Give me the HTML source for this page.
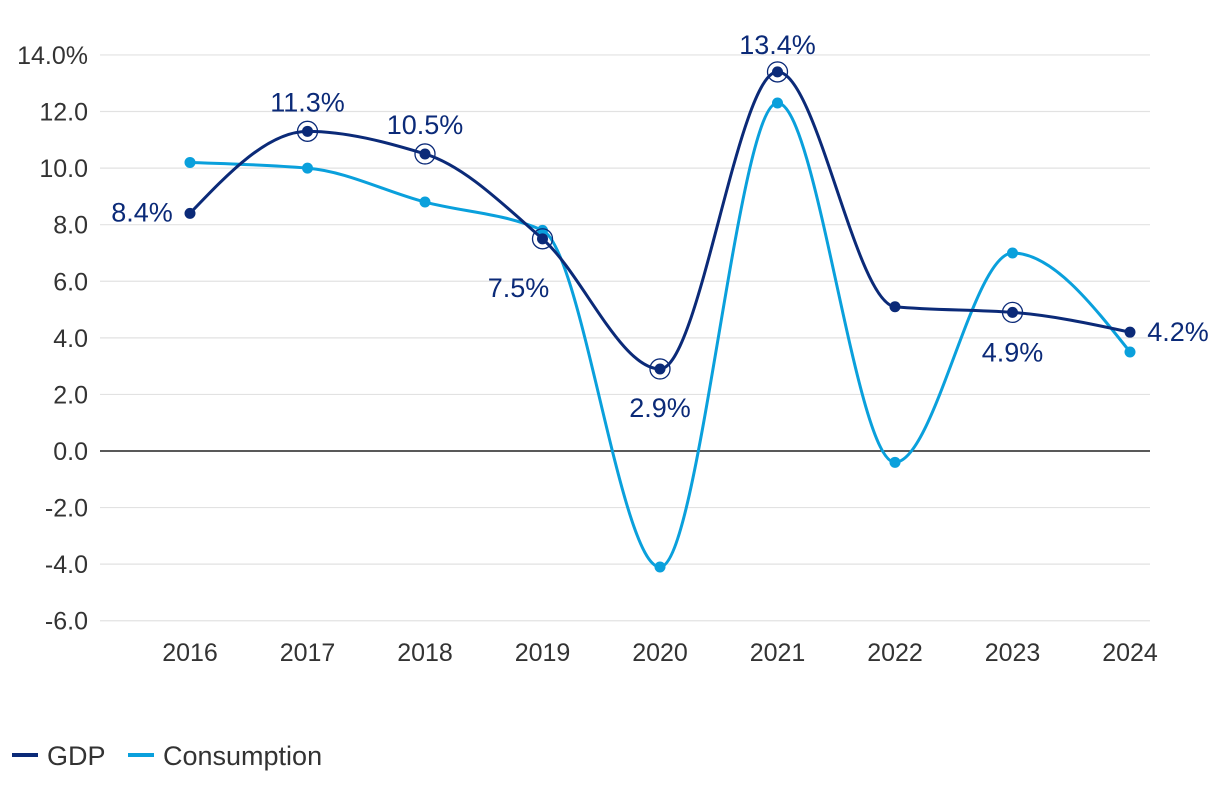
<!DOCTYPE html>
<html><head><meta charset="utf-8"><style>
html,body{margin:0;padding:0;background:#fff;}
svg text{font-family:"Liberation Sans",sans-serif;}
</style></head><body>
<svg id="chart" width="1220" height="788" viewBox="0 0 1220 788" xmlns="http://www.w3.org/2000/svg">
<g id="grid"></g>
<g id="yticks"></g>
<g id="xticks"></g>
<g id="series"></g>
<g id="legend">
  <line x1="12" y1="755" x2="38" y2="755" stroke="#0b2a78" stroke-width="4"/>
  <text x="47" y="765" font-size="27" fill="#333">GDP</text>
  <line x1="128" y1="755" x2="154" y2="755" stroke="#0aa0dc" stroke-width="4"/>
  <text x="163" y="765" font-size="27" fill="#333">Consumption</text>
</g>
</svg>
<script>
const years=["2016","2017","2018","2019","2020","2021","2022","2023","2024"];
const gdp=[8.4,11.3,10.5,7.5,2.9,13.4,5.1,4.9,4.2];
const consumption=[10.2,10.0,8.8,7.8,-4.1,12.3,-0.4,7.0,3.5];
const yTicks=[14,12,10,8,6,4,2,0,-2,-4,-6];
const gdpLabels=["8.4%","11.3%","10.5%","7.5%","2.9%","13.4%","","4.9%","4.2%"];
const ringed=[false,true,true,true,true,true,false,true,false];

const NS="http://www.w3.org/2000/svg";
function y(v){return 451-v*28.29;}
function x(i){return 190+i*117.5;}
function mk(tag,attrs,parent){const e=document.createElementNS(NS,tag);for(const k in attrs)e.setAttribute(k,attrs[k]);parent.appendChild(e);return e;}
const grid=document.getElementById('grid'),yt=document.getElementById('yticks'),xt=document.getElementById('xticks'),ser=document.getElementById('series');
yTicks.forEach(v=>{
  const l=mk('line',{x1:100,x2:1150,y1:y(v),y2:y(v),stroke:v===0?'#222':'#e2e2e2','stroke-width':v===0?1.5:1.2},grid);
  
  
  const t=mk('text',{x:88,y:y(v)+9,'text-anchor':'end','font-size':25,fill:'#333'},yt);
  t.textContent=(v===14?v.toFixed(1)+'%':v.toFixed(1));
  
  
});
years.forEach((yr,i)=>{
  const t=mk('text',{x:x(i),y:661,'text-anchor':'middle','font-size':25,fill:'#333'},xt);
  t.textContent=yr;
  
  
});
function pathFor(vals){
  const p=vals.map((v,i)=>[x(i),y(v)]);
  const n=p.length, s=[], m=[];
  for(let i=0;i<n-1;i++) s.push((p[i+1][1]-p[i][1])/(p[i+1][0]-p[i][0]));
  for(let i=0;i<n;i++){
    if(i===0) m.push(s[0]);
    else if(i===n-1) m.push(s[n-2]);
    else if(s[i-1]*s[i]<=0) m.push(0);
    else { const a=s[i-1],b=s[i]; m.push(2/(1/a+1/b)); }
  }
  m[0]=(3*s[0]-m[1])/2; m[n-1]=(3*s[n-2]-m[n-2])/2;
  let d='M'+p[0][0]+','+p[0][1];
  for(let i=0;i<n-1;i++){
    const h=(p[i+1][0]-p[i][0])/3;
    d+=' C'+(p[i][0]+h)+','+(p[i][1]+m[i]*h)+' '+(p[i+1][0]-h)+','+(p[i+1][1]-m[i+1]*h)+' '+p[i+1][0]+','+p[i+1][1];
  }
  return d;
}
function drawSeries(vals,color,name){
  const g=mk('g',{},ser);
  
  
  const pa=mk('path',{d:pathFor(vals),fill:'none',stroke:color,'stroke-width':3},g);
  
  
  vals.forEach((v,i)=>{
    const c=mk('circle',{cx:x(i),cy:y(v),r:5.5,fill:color},g);
    
    
  });
  return g;
}
drawSeries(consumption,'#0aa0dc','consumption');
const gg=drawSeries(gdp,'#0b2a78','gdp');
const off=[[-48,8],[0,-20],[0,-20],[-24,58],[0,48],[0,-18],[0,0],[0,49],[48,9]];
gdp.forEach((v,i)=>{
  if(ringed[i]){
    const r=mk('circle',{cx:x(i),cy:y(v),r:10,fill:'none',stroke:'#0b2a78','stroke-width':1.3},gg);
    
    
  }
  if(gdpLabels[i]){
    const t=mk('text',{x:x(i)+off[i][0],y:y(v)+off[i][1],'text-anchor':'middle','font-size':27,fill:'#0b2a78'},gg);
    t.textContent=gdpLabels[i];
    
    
  }
});
</script>
</body></html>
